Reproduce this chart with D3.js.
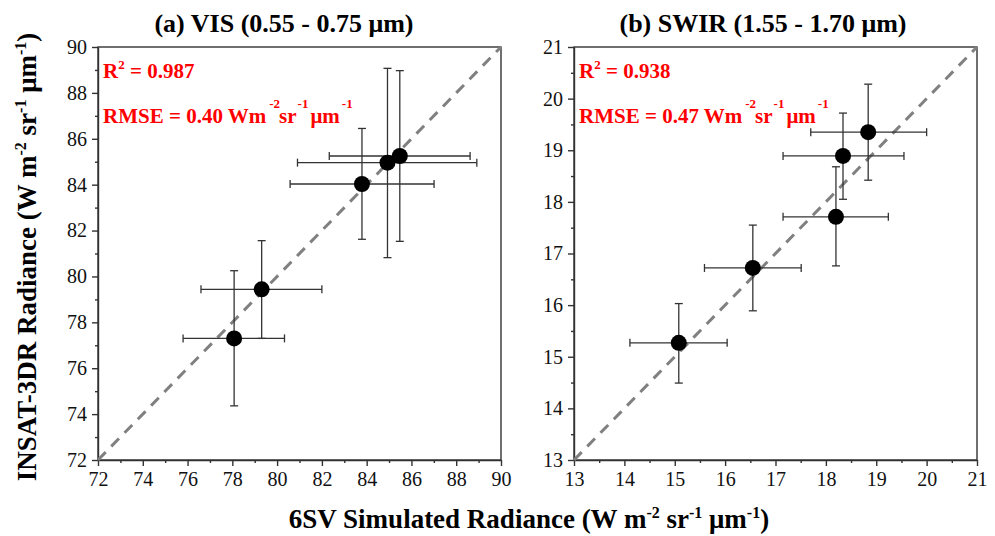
<!DOCTYPE html>
<html>
<head>
<meta charset="utf-8">
<script src="https://cdn.jsdelivr.net/npm/d3@7"></script>
<style>
  body { margin: 0; background: #fff; }
  svg { display: block; font-family: "Liberation Serif", "Times New Roman", serif; }
  .tick text { font-size: 20px; fill: #111; font-family: "Liberation Serif", "Times New Roman", serif; }
  .axis path, .axis line { stroke: #333; stroke-width: 1.4; }
</style>
</head>
<body>
<svg id="chart" width="995" height="536"></svg>
<script>
// panel titles / annotation values
var titles = ["(a) VIS (0.55 - 0.75 \u03bcm)", "(b) SWIR (1.55 - 1.70 \u03bcm)"];
var r2Vals = ["0.987", "0.938"];
var rmseVals = ["0.40", "0.47"];

// axis ranges and tick steps
var domains = [[72, 90], [13, 21]];
var majorStep = [2, 1];

// (a) VIS points: 6SV (x) vs INSAT-3DR (y), with error-bar ends
var visX   = [78.08, 79.31, 83.79, 84.93, 85.48];
var visY   = [77.30, 79.44, 84.03, 84.96, 85.25];
var visXLo = [75.80, 76.60, 80.58, 80.91, 82.33];
var visXHi = [80.33, 82.00, 87.01, 88.92, 88.62];
var visYLo = [74.36, 77.30, 81.62, 80.82, 81.53];
var visYHi = [80.25, 81.56, 86.45, 89.07, 88.97];

// (b) SWIR points
var swirX   = [15.08, 16.55, 18.20, 18.34, 18.84];
var swirY   = [15.27, 16.72, 17.71, 18.89, 19.35];
var swirXLo = [14.11, 15.59, 17.15, 17.15, 17.70];
var swirXHi = [16.04, 17.51, 19.24, 19.55, 20.00];
var swirYLo = [14.49, 15.89, 16.76, 18.05, 18.42];
var swirYHi = [16.03, 17.55, 18.68, 19.72, 20.28];

function rows(x, y, xlo, xhi, ylo, yhi) {
    return x.map(function(d, i) {
        return {x: d, y: y[i], xlo: xlo[i], xhi: xhi[i], ylo: ylo[i], yhi: yhi[i]};
    });
}
var panelData = [
    rows(visX, visY, visXLo, visXHi, visYLo, visYHi),
    rows(swirX, swirY, swirXLo, swirXHi, swirYLo, swirYHi)
];

var svg = d3.select("#chart");
var plotTop = 47, plotBottom = 460;
var lefts = [98, 574], rights = [501, 977];
var titleX = [284, 763];

panelData.forEach(function(data, p) {
    var dom = domains[p], step = majorStep[p];
    var x = d3.scaleLinear().domain(dom).range([lefts[p], rights[p]]);
    var y = d3.scaleLinear().domain(dom).range([plotBottom, plotTop]);
    var major = d3.range(dom[0], dom[1] + step / 2, step);
    var minor = d3.range(dom[0] + step / 2, dom[1], step);

    var g = svg.append("g");

    // minor ticks
    g.append("g").attr("class", "axis")
        .attr("transform", "translate(0," + plotBottom + ")")
        .call(d3.axisBottom(x).tickValues(minor).tickSize(3).tickFormat(""))
        .select(".domain").remove();
    g.append("g").attr("class", "axis")
        .attr("transform", "translate(" + lefts[p] + ",0)")
        .call(d3.axisLeft(y).tickValues(minor).tickSize(3).tickFormat(""))
        .select(".domain").remove();

    // major ticks with labels
    g.append("g").attr("class", "axis")
        .attr("transform", "translate(0," + plotBottom + ")")
        .call(d3.axisBottom(x).tickValues(major).tickSize(6).tickSizeOuter(0).tickPadding(6).tickFormat(d3.format("d")));
    g.append("g").attr("class", "axis")
        .attr("transform", "translate(" + lefts[p] + ",0)")
        .call(d3.axisLeft(y).tickValues(major).tickSize(6).tickSizeOuter(0).tickPadding(5).tickFormat(d3.format("d")));

    // frame
    g.append("rect")
        .attr("x", lefts[p]).attr("y", plotTop)
        .attr("width", rights[p] - lefts[p]).attr("height", plotBottom - plotTop)
        .attr("fill", "none").attr("stroke", "#333").attr("stroke-width", 1.4);

    // 1:1 line
    g.append("line")
        .attr("x1", x(dom[0])).attr("y1", y(dom[0]))
        .attr("x2", x(dom[1])).attr("y2", y(dom[1]))
        .attr("stroke", "#808080").attr("stroke-width", 3)
        .attr("stroke-dasharray", "11,8");

    // error bars
    var cap = 4;
    var eb = g.append("g").attr("stroke", "#333").attr("stroke-width", 1.3);
    eb.selectAll(".h").data(data).enter().append("line")
        .attr("x1", function(d) { return x(d.xlo); }).attr("x2", function(d) { return x(d.xhi); })
        .attr("y1", function(d) { return y(d.y); }).attr("y2", function(d) { return y(d.y); });
    eb.selectAll(".v").data(data).enter().append("line")
        .attr("x1", function(d) { return x(d.x); }).attr("x2", function(d) { return x(d.x); })
        .attr("y1", function(d) { return y(d.ylo); }).attr("y2", function(d) { return y(d.yhi); });
    ["xlo", "xhi"].forEach(function(k) {
        eb.selectAll(".c" + k).data(data).enter().append("line")
            .attr("x1", function(d) { return x(d[k]); }).attr("x2", function(d) { return x(d[k]); })
            .attr("y1", function(d) { return y(d.y) - cap; }).attr("y2", function(d) { return y(d.y) + cap; });
    });
    ["ylo", "yhi"].forEach(function(k) {
        eb.selectAll(".c" + k).data(data).enter().append("line")
            .attr("x1", function(d) { return x(d.x) - cap; }).attr("x2", function(d) { return x(d.x) + cap; })
            .attr("y1", function(d) { return y(d[k]); }).attr("y2", function(d) { return y(d[k]); });
    });

    // points
    g.selectAll(".pt").data(data).enter().append("circle")
        .attr("cx", function(d) { return x(d.x); })
        .attr("cy", function(d) { return y(d.y); })
        .attr("r", 8).attr("fill", "#000");

    // title
    g.append("text")
        .attr("x", titleX[p]).attr("y", 32)
        .attr("text-anchor", "middle")
        .style("font-size", "26px").style("font-weight", "bold")
        .text(titles[p]);

    // stats text
    var r2 = g.append("text")
        .attr("x", lefts[p] + 5).attr("y", 78)
        .attr("fill", "#ff0000").style("font-size", "21px").style("font-weight", "bold");
    r2.append("tspan").text("R");
    r2.append("tspan").attr("dy", -9).style("font-size", "13px").text("2");
    r2.append("tspan").attr("dy", 9).text(" = " + r2Vals[p]);

    var rm = g.append("text")
        .attr("x", lefts[p] + 5).attr("y", 123)
        .attr("fill", "#ff0000").style("font-size", "21px").style("font-weight", "bold");
    rm.append("tspan").text("RMSE = " + rmseVals[p] + " Wm");
    rm.append("tspan").attr("dy", -15).attr("dx", 3).style("font-size", "13px").text("-2");
    rm.append("tspan").attr("dy", 15).attr("dx", -1).text("sr");
    rm.append("tspan").attr("dy", -15).attr("dx", 1).style("font-size", "13px").text("-1");
    rm.append("tspan").attr("dy", 15).attr("dx", 2).text("\u03bcm");
    rm.append("tspan").attr("dy", -15).attr("dx", 2).style("font-size", "13px").text("-1");
});

// shared axis labels
function unitLabel(t) {
    t.append("tspan").text(" (W m");
    t.append("tspan").attr("dy", -10).style("font-size", "16px").text("-2");
    t.append("tspan").attr("dy", 10).text(" sr");
    t.append("tspan").attr("dy", -10).style("font-size", "16px").text("-1");
    t.append("tspan").attr("dy", 10).text(" \u03bcm");
    t.append("tspan").attr("dy", -10).style("font-size", "16px").text("-1");
    t.append("tspan").attr("dy", 10).text(")");
}

var xl = svg.append("text")
    .attr("x", 529).attr("y", 528)
    .attr("text-anchor", "middle")
    .style("font-size", "27px").style("font-weight", "bold");
xl.append("tspan").text("6SV Simulated Radiance");
unitLabel(xl);

var yl = svg.append("text")
    .attr("transform", "translate(36,257) rotate(-90)")
    .attr("text-anchor", "middle")
    .style("font-size", "27px").style("font-weight", "bold");
yl.append("tspan").text("INSAT-3DR Radiance");
unitLabel(yl);
</script>
</body>
</html>
